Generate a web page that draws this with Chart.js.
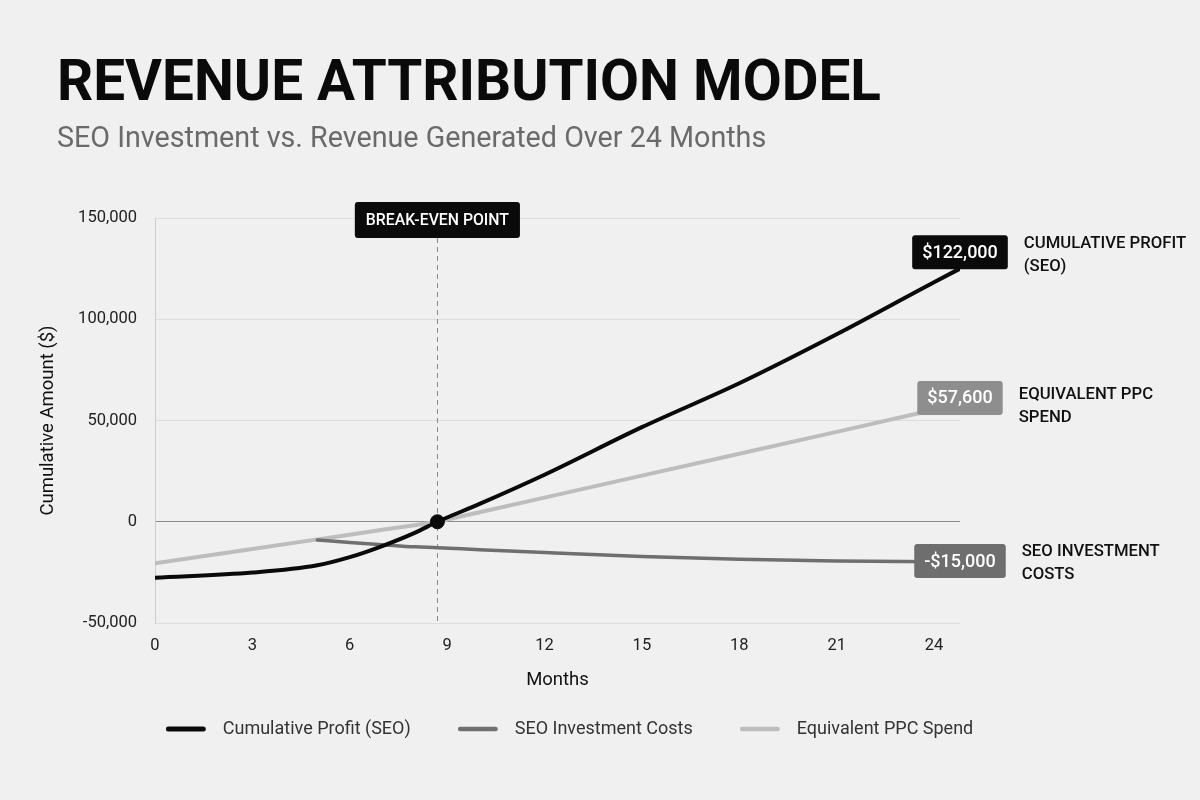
<!DOCTYPE html>
<html><head><meta charset="utf-8">
<script src="https://cdn.jsdelivr.net/npm/chart.js@4"></script>
<style>
html,body{margin:0;padding:0;background:#f0f0f0;width:1200px;height:800px;overflow:hidden;}
#wrap{position:absolute;left:0;top:0;width:1200px;height:800px;}
#title{position:absolute;left:57px;top:53px;font:700 56.6px/1 Roboto, sans-serif;color:#0a0a0a;margin:0;white-space:nowrap;}
#subtitle{position:absolute;left:57px;top:123px;font:400 28.7px/1 Roboto, sans-serif;color:#6a6a6a;margin:0;white-space:nowrap;}
</style></head><body>
<div id="wrap"><canvas id="c" width="1200" height="800"></canvas></div>
<h1 id="title">REVENUE ATTRIBUTION MODEL</h1>
<div id="subtitle">SEO Investment vs. Revenue Generated Over 24 Months</div>
<script>
// ---- data ----
const months        = [0, 3, 5, 6, 7, 8, 8.7, 10, 12, 15, 18, 21, 24, 24.8];
const profitValues  = [-27600, -25100, -21500, -17500, -12000, -5500, 0, 8800, 23200, 46700, 68400, 92600, 118300, 125000];
const seoCostValues = [null, null, -9000, -10200, -11300, -12400, -12800, -13800, -15200, -17100, -18500, -19400, -19800, -19900];
const ppcValues     = [-20500, -13500, -8700, -6400, -4000, -1700, 0, 4700, 11900, 22800, 33600, 44400, 55300, 58200];
const seriesNames   = ['Cumulative Profit (SEO)', 'SEO Investment Costs', 'Equivalent PPC Spend'];
const endValueLabels = ['$122,000', '-$15,000', '$57,600'];
const endNameLabels  = [['CUMULATIVE PROFIT', '(SEO)'], ['SEO INVESTMENT', 'COSTS'], ['EQUIVALENT PPC', 'SPEND']];
const xTicks = [0, 3, 6, 9, 12, 15, 18, 21, 24];
const yTicks = [-50000, 0, 50000, 100000, 150000];
const xMax = 24.8;
const breakEvenMonth = 8.7;
const breakEvenValue = 0;
const breakEvenLabel = 'BREAK-EVEN POINT';

// ---- styles ----
const lineColors = ['#0a0a0a', '#6f6f6f', '#bdbdbd'];
const lineWidths = [4, 3.5, 4];
const boxColors  = ['#0a0a0a', '#6e6e6e', '#8e8e8e'];
const boxDy  = [-16.5, -1, -6];
const textDy = [-8, -9, -3];

Chart.defaults.font.family = 'Roboto, sans-serif';

function swatch(color, w) {
  const c = document.createElement('canvas');
  c.width = 48; c.height = 10;
  const g = c.getContext('2d');
  g.strokeStyle = color; g.lineWidth = w; g.lineCap = 'round';
  g.beginPath(); g.moveTo(w / 2, 5); g.lineTo(40 - w / 2, 5); g.stroke();
  return c;
}
const swatches = [swatch(lineColors[0], 5), swatch(lineColors[1], 4.5), swatch(lineColors[2], 4.5)];

const seriesValues = [profitValues, seoCostValues, ppcValues];
const toXY = vals => months.map((m, i) => ({x: m, y: vals[i]}));

const annotations = {
  id: 'annotations',
  beforeDatasetsDraw(chart) {
    const {ctx, chartArea, scales: {x}} = chart;
    const px = Math.round(x.getPixelForValue(breakEvenMonth)) + 0.5;
    ctx.save();
    ctx.strokeStyle = '#8a8a8a'; ctx.lineWidth = 1; ctx.setLineDash([5, 4]);
    ctx.beginPath(); ctx.moveTo(px, chartArea.top + 20); ctx.lineTo(px, chartArea.bottom); ctx.stroke();
    ctx.restore();
  },
  afterDatasetsDraw(chart) {
    const {ctx, chartArea, scales: {x, y}} = chart;
    ctx.save();
    const px = x.getPixelForValue(breakEvenMonth);
    ctx.font = '500 15.8px Roboto';
    const tw = ctx.measureText(breakEvenLabel).width;
    const bw = tw + 22, bh = 36, bt = chartArea.top - 16;
    ctx.fillStyle = '#0a0a0a';
    ctx.beginPath(); ctx.roundRect(px - bw / 2, bt, bw, bh, 3); ctx.fill();
    ctx.fillStyle = '#ffffff'; ctx.textAlign = 'center'; ctx.textBaseline = 'middle';
    ctx.fillText(breakEvenLabel, px, bt + bh / 2 + 1);
    const last = months.length - 1;
    for (let i = 0; i < 3; i++) {
      const xe = x.getPixelForValue(months[last]);
      const yc = y.getPixelForValue(seriesValues[i][last]) + boxDy[i];
      ctx.font = '500 18px Roboto';
      const w = ctx.measureText(endValueLabels[i]).width + 20, h = 34;
      ctx.fillStyle = boxColors[i];
      ctx.beginPath(); ctx.roundRect(xe - w / 2, yc - h / 2, w, h, 3); ctx.fill();
      ctx.fillStyle = '#ffffff'; ctx.textAlign = 'center'; ctx.textBaseline = 'middle';
      ctx.fillText(endValueLabels[i], xe, yc + 1);
      ctx.font = '500 16.7px Roboto'; ctx.fillStyle = '#111111'; ctx.textAlign = 'left';
      const tx = xe + w / 2 + 16;
      endNameLabels[i].forEach((t, k) => ctx.fillText(t, tx, yc + textDy[i] + k * 23));
    }
    ctx.restore();
  }
};

new Chart(document.getElementById('c'), {
  type: 'line',
  data: {
    datasets: [
      ...seriesValues.map((vals, i) => ({
        label: seriesNames[i],
        data: toXY(vals),
        borderColor: lineColors[i],
        backgroundColor: lineColors[i],
        borderWidth: lineWidths[i],
        pointRadius: 0,
        fill: false,
        cubicInterpolationMode: i === 2 ? 'default' : 'monotone',
        tension: 0,
        borderCapStyle: 'round'
      })),
      {
        label: 'Break-even',
        data: [{x: breakEvenMonth, y: breakEvenValue}],
        showLine: false,
        pointRadius: 7,
        pointBackgroundColor: '#0a0a0a',
        pointBorderColor: '#0a0a0a',
        order: -1
      }
    ]
  },
  options: {
    responsive: false,
    animation: false,
    layout: {padding: {left: 30, right: 91, top: 218, bottom: 52}},
    scales: {
      x: {
        type: 'linear', min: 0, max: xMax,
        afterBuildTicks: a => { a.ticks = xTicks.map(v => ({value: v})); },
        grid: {display: false, drawTicks: false},
        border: {display: false},
        ticks: {padding: 13, color: '#222', font: {size: 16.5}, callback: v => String(v)},
        title: {display: true, text: 'Months', color: '#111', font: {size: 18.5}, padding: {top: 0, bottom: -18.1}},
        afterFit: s => { s.height = 50; }
      },
      y: {
        type: 'linear', min: -50000, max: 150000,
        afterBuildTicks: a => { a.ticks = yTicks.map(v => ({value: v})); },
        grid: {drawTicks: false, lineWidth: 1, color: c => (c.tick && c.tick.value === 0) ? '#8c8c8c' : '#dcdcdc'},
        border: {display: true, color: '#cccccc'},
        ticks: {padding: 18, color: '#222', font: {size: 16.5}, callback: v => v.toLocaleString('en-US')},
        title: {display: true, text: 'Cumulative Amount ($)', color: '#111', font: {size: 18.5}, padding: {top: 7, bottom: 0}},
        afterFit: s => { s.width = 125; }
      },
      yRight: {
        type: 'linear', position: 'right', display: true,
        grid: {display: false}, border: {display: false}, ticks: {display: false},
        afterFit: s => { s.width = 149; }
      }
    },
    plugins: {
      tooltip: {enabled: false},
      legend: {
        position: 'bottom',
        labels: {
          usePointStyle: true, pointStyleWidth: 48, padding: 47, color: '#333', font: {size: 18},
          generateLabels: chart => Chart.defaults.plugins.legend.labels.generateLabels(chart)
            .filter(l => l.datasetIndex < 3)
            .map(l => Object.assign(l, {pointStyle: swatches[l.datasetIndex]}))
        }
      }
    }
  },
  plugins: [annotations]
});
</script>
</body></html>
